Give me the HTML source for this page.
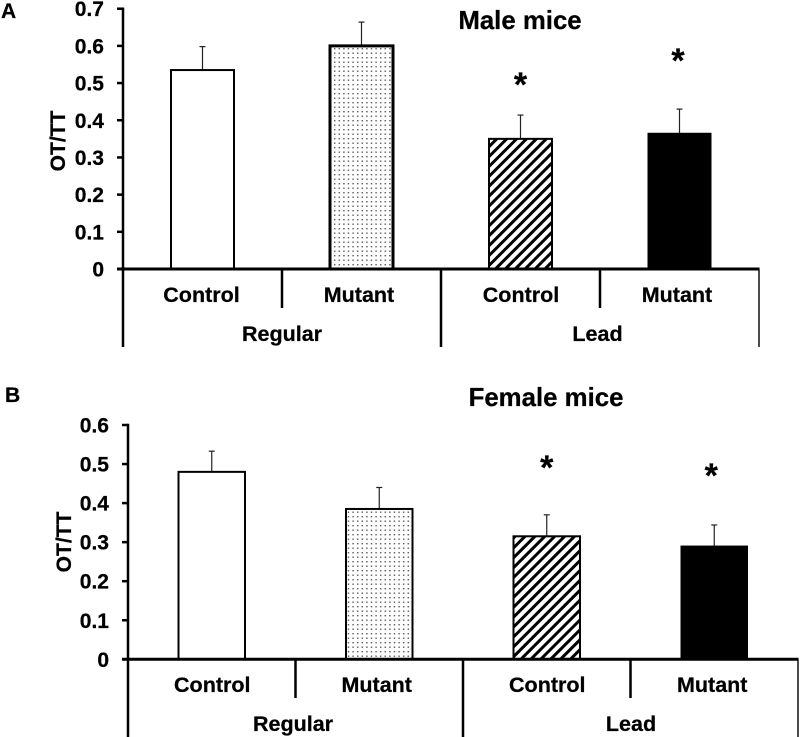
<!DOCTYPE html>
<html lang="en">
<head>
<meta charset="utf-8">
<title>OT/TT in male and female mice</title>
<style>
html,body{margin:0;padding:0;background:#fff;}
svg{display:block;font-family:"Liberation Sans",Arial,sans-serif;font-weight:bold;fill:#000;}
svg text{stroke:#000;stroke-width:0.25;}
</style>
</head>
<body>
<svg id="chart" xmlns="http://www.w3.org/2000/svg" width="800" height="737" viewBox="0 0 800 737">
  <defs>
    <pattern id="dots" patternUnits="userSpaceOnUse" width="4.6" height="4.5" x="333" y="47">
      <rect x="1" y="1" width="1.4" height="1.4" fill="#555"/>
    </pattern>
    <pattern id="hatch" patternUnits="userSpaceOnUse" width="7" height="7" patternTransform="rotate(45)">
      <rect x="0" y="0" width="7" height="7" fill="#fff"/>
      <rect x="0" y="0" width="3" height="7" fill="#000"/>
    </pattern>
  </defs>
  <text x="1" y="18" font-size="21">A</text>
  <text x="5" y="402" font-size="21">B</text>
  <g id="panel-a"></g>
  <g id="panel-b"></g>
</svg>
<script>
const groupLabels = ["Regular", "Lead"];
const barLabels = ["Control", "Mutant", "Control", "Mutant"];
const barFills = ["#fff", "url(#dots)", "url(#hatch)", "#000"];
const maleValues = [0.535, 0.6, 0.35, 0.365];
const maleErrorTops = [0.598, 0.664, 0.414, 0.43];
const maleSignificant = [false, false, true, true];
const maleTicks = [0, 0.1, 0.2, 0.3, 0.4, 0.5, 0.6, 0.7];
const femaleValues = [0.48, 0.385, 0.315, 0.29];
const femaleErrorTops = [0.533, 0.44, 0.37, 0.344];
const femaleSignificant = [false, false, true, true];
const femaleTicks = [0, 0.1, 0.2, 0.3, 0.4, 0.5, 0.6];

const NS = "http://www.w3.org/2000/svg";
function make(parent, tag, attrs, text) {
  const el = document.createElementNS(NS, tag);
  for (const k in attrs) el.setAttribute(k, attrs[k]);
  if (text !== undefined) el.textContent = text;
  parent.appendChild(el);
  return el;
}
function line(parent, x1, y1, x2, y2, w, color) {
  const el = make(parent, "line", {x1, y1, x2, y2, stroke: color || "#000", "stroke-width": w});
  
  
  return el;
}
function drawPanel(root, cfg) {
  const yMax = cfg.ticks[cfg.ticks.length - 1];
  const y = v => cfg.y0 - (v / yMax) * (cfg.y0 - cfg.yTop);
  const slot = (cfg.x1 - cfg.x0) / cfg.values.length;
  const xMid = i => cfg.x0 + slot * (i + 0.5);

  cfg.ticks.forEach(t => {
    line(root, cfg.x0 - 6, y(t), cfg.x0, y(t), 2.5);
    const lab = make(root, "text", {x: cfg.x0 - 19, y: y(t) + 7.5, "text-anchor": "end", "font-size": 21}, String(t));
    
    
  });
  const yTitle = make(root, "text", {
    transform: "translate(" + (cfg.x0 - cfg.yTitleGap) + "," + cfg.yTitleY + ") rotate(-90)",
    "text-anchor": "middle", "font-size": 21
  }, "OT/TT");
  
  

  cfg.values.forEach((v, i) => {
    const cx = xMid(i), hw = cfg.barWidth / 2;
    const err = make(root, "line", {x1: cx, x2: cx, y1: y(v), y2: y(cfg.errors[i]), stroke: "#222", "stroke-width": 1.2});
    
    
    const cap = make(root, "line", {x1: cx - 3, x2: cx + 3, y1: y(cfg.errors[i]), y2: y(cfg.errors[i]), stroke: "#222", "stroke-width": 1.2});
    
    
    const bar = make(root, "rect", {
      x: cx - hw, y: y(v), width: cfg.barWidth, height: y(0) - y(v),
      fill: barFills[i], stroke: "#000", "stroke-width": i === 3 ? 1 : (i === 1 ? cfg.dotStroke : 2)
    });
    
    
    if (cfg.significant[i]) {
      const star = make(root, "text", {x: cx + cfg.starShift[i], y: y(cfg.errors[i]) + cfg.starOffset[i], "text-anchor": "middle", "font-size": 34}, "*");
      
      
    }
    const lab = make(root, "text", {x: cx + cfg.labelShift[i], y: cfg.catY, "text-anchor": "middle", "font-size": 21.5}, barLabels[i]);
    
    
  });

  line(root, cfg.x0, cfg.yTop - 1.2, cfg.x0, cfg.yEnd, 2.5);
  line(root, cfg.x0 - 6, y(0), cfg.x1 + 0.5, y(0), 3);
  for (let i = 1; i <= cfg.values.length; i++) {
    const x = cfg.x0 + slot * i;
    const long = i % 2 === 0;
    line(root, x, y(0), x, long ? cfg.yEnd : cfg.divEnd, i === cfg.values.length ? 1.4 : 2.5);
  }
  groupLabels.forEach((g, i) => {
    const lab = make(root, "text", {x: cfg.x0 + slot * (2 * i + 1) + cfg.groupShift[i], y: cfg.groupY, "text-anchor": "middle", "font-size": 21.5}, g);
    
    
  });
  const title = make(root, "text", {x: cfg.titleX, y: cfg.titleY, "text-anchor": "middle", "font-size": 25.8}, cfg.title);
  
  
}
drawPanel(document.getElementById("panel-a"), {
  title: "Male mice", titleX: 520, titleY: 29,
  values: maleValues, errors: maleErrorTops, significant: maleSignificant, ticks: maleTicks,
  x0: 123, x1: 759, y0: 269, yTop: 8.7, yEnd: 347, divEnd: 308,
  barWidth: 63, catY: 302, groupY: 341, dotStroke: 3,
  yTitleGap: 58, yTitleY: 141,
  labelShift: [-1, -2.5, 0.5, -2.5], groupShift: [0, -2.5],
  starOffset: [0, 0, -19, -37], starShift: [0, 0, 0, -1.5]
});
drawPanel(document.getElementById("panel-b"), {
  title: "Female mice", titleX: 546, titleY: 406,
  values: femaleValues, errors: femaleErrorTops, significant: femaleSignificant, ticks: femaleTicks,
  x0: 128, x1: 798, y0: 659.3, yTop: 425, yEnd: 738, divEnd: 698,
  barWidth: 66.5, catY: 692, groupY: 731, dotStroke: 2,
  yTitleGap: 57, yTitleY: 542,
  labelShift: [0.5, -2.5, 0.5, -2], groupShift: [-2.5, 0.5],
  starOffset: [0, 0, -36, -38], starShift: [0, 0, 0, -3]
});
</script>
</body>
</html>
